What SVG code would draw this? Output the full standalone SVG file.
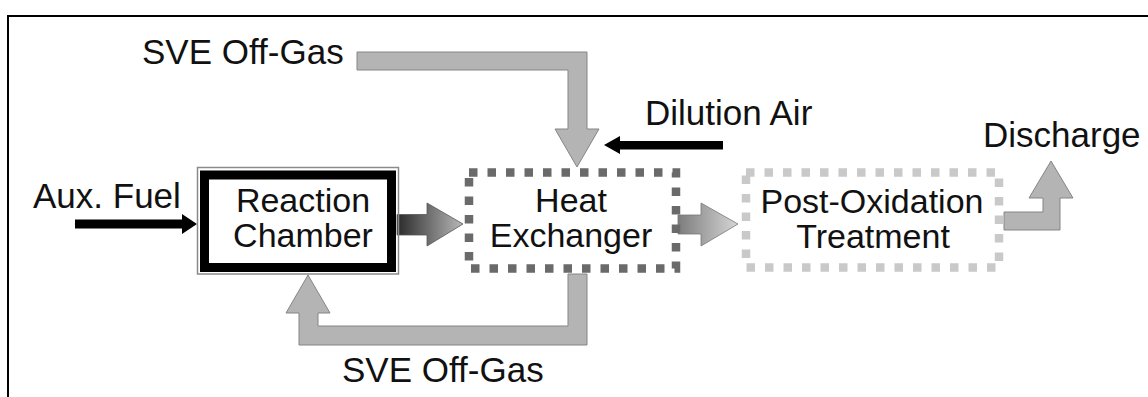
<svg xmlns="http://www.w3.org/2000/svg" width="1148" height="397" viewBox="0 0 1148 397">
<style>
text{font-family:"Liberation Sans",Arial,sans-serif;fill:#111}
.lbl{font-size:35px}
.node{font-size:34px;text-anchor:middle}
.gray{fill:#b4b4b4;stroke:#858585;stroke-width:1}
.blk{fill:#000}
</style>
<defs>
<linearGradient id="g1" gradientUnits="userSpaceOnUse" x1="397" y1="0" x2="463" y2="0">
<stop offset="0" stop-color="#2a2a2a"/><stop offset="1" stop-color="#b8b8b8"/>
</linearGradient>
<linearGradient id="g2" gradientUnits="userSpaceOnUse" x1="676" y1="0" x2="738" y2="0">
<stop offset="0" stop-color="#7a7a7a"/><stop offset="1" stop-color="#d6d6d6"/>
</linearGradient>
</defs>
<rect width="1148" height="397" fill="#fff"/>
<path d="M8,397 V16 H1148" fill="none" stroke="#000" stroke-width="2"/>

<g id="connectors">
<polygon class="gray" points="357,52 587,52 587,129 599,129 577,167 555,129 568,129 568,70 357,70"/>
<polygon class="gray" points="587,274 587,345 299,345 299,313 286,313 308,275 330,313 318,313 318,326 568,326 568,274"/>
<polygon class="blk" points="723,141 620,141 620,136 604,145 620,154 620,149.5 723,149.5"/>
<polygon class="blk" points="75,219.5 182,219.5 182,214 197,224 182,234 182,228.5 75,228.5"/>
<polygon points="397,214.5 427,214.5 427,203 463,224 427,246 427,235 397,235" fill="url(#g1)" stroke="#555" stroke-width="0.8"/>
<polygon points="678,215 701,215 701,203 738,224 701,246 701,234 678,234" fill="url(#g2)" stroke="#777" stroke-width="0.8"/>
<polygon class="gray" points="1004,212 1043,212 1043,198 1029,198 1051,161 1073,198 1060,198 1060,230 1004,230"/>
</g>

<g id="labels">
<text class="lbl" x="142" y="64">SVE Off-Gas</text>
<text class="lbl" x="645" y="125">Dilution Air</text>
<text class="lbl" x="33" y="208">Aux. Fuel</text>
<text class="lbl" x="983" y="147">Discharge</text>
<text class="lbl" x="342" y="382">SVE Off-Gas</text>
</g>

<g id="reaction-chamber">
<rect x="197.5" y="167.5" width="201" height="106.5" fill="none" stroke="#8a8a8a" stroke-width="1.5"/>
<rect x="204.5" y="175" width="187" height="92.5" fill="#fff" stroke="#000" stroke-width="9"/>
<text class="node" x="303" y="212">Reaction</text>
<text class="node" x="303" y="247">Chamber</text>
</g>

<g id="heat-exchanger">
<rect x="469" y="172.5" width="207" height="96" fill="none" stroke="#6a6a6a" stroke-width="8.5" stroke-dasharray="8.5 10"/>
<text class="node" x="571" y="212">Heat</text>
<text class="node" x="571" y="247">Exchanger</text>
</g>

<g id="post-oxidation">
<rect x="746" y="172.5" width="253" height="95" fill="none" stroke="#c9c9c9" stroke-width="8.5" stroke-dasharray="8.5 10"/>
<text class="node" x="872" y="213">Post-Oxidation</text>
<text class="node" x="873" y="248">Treatment</text>
</g>
</svg>
